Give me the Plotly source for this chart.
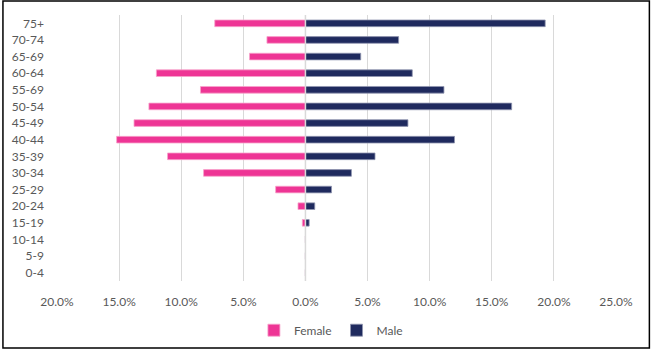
import plotly.graph_objects as go

age_groups = ["0-4", "5-9", "10-14", "15-19", "20-24", "25-29", "30-34", "35-39",
              "40-44", "45-49", "50-54", "55-69", "60-64", "65-69", "70-74", "75+"]
female_pct = [0.0, 0.0, 0.0, 0.25, 0.6, 2.4, 8.2, 11.1, 15.2, 13.8, 12.6, 8.45, 12.0, 4.5, 3.1, 7.3]
male_pct = [0.0, 0.0, 0.0, 0.3, 0.75, 2.1, 3.7, 5.6, 12.0, 8.25, 16.6, 11.15, 8.6, 4.45, 7.5, 19.3]
x_ticks = [-20, -15, -10, -5, 0, 5, 10, 15, 20, 25]
x_tick_labels = ["20.0%", "15.0%", "10.0%", "5.0%", "0.0%", "5.0%", "10.0%", "15.0%", "20.0%", "25.0%"]

FEMALE = "#EE3595"
MALE = "#1F2A5E"
W, H = 651, 357
ML, MR, MT, MB = 55, 35, 15, 70

fig = go.Figure()
fig.add_trace(go.Bar(
    y=age_groups, x=[-v for v in female_pct], name="Female", orientation="h",
    marker=dict(color=FEMALE, line=dict(color="#F7A3CC", width=0.8)), width=0.4,
))
fig.add_trace(go.Bar(
    y=age_groups, x=male_pct, name="Male", orientation="h",
    marker=dict(color=MALE, line=dict(color="#9095B0", width=0.8)), width=0.4,
))

pw = W - ML - MR
ph = H - MT - MB
fig.add_shape(type="rect", xref="paper", yref="paper",
              x0=(0.75 - ML) / pw, x1=(649.5 - ML) / pw,
              y0=(ph + MT - 355.5) / ph, y1=(ph + MT - 0.75) / ph,
              line=dict(color="black", width=1.5), fillcolor="rgba(0,0,0,0)", layer="above")

fig.update_layout(
    width=W, height=H,
    margin=dict(l=ML, r=MR, t=MT, b=MB),
    barmode="relative",
    plot_bgcolor="white", paper_bgcolor="white",
    font=dict(family="Lato", size=12, color="#595959"),
    showlegend=True,
    legend=dict(orientation="h", x=0.49, xanchor="center", y=-0.185, yanchor="middle",
                font=dict(size=12, color="#595959"), itemwidth=30, traceorder="normal"),
    xaxis=dict(range=[-20, 25], tickvals=x_ticks, ticktext=x_tick_labels,
               showgrid=True, gridcolor="#D9D9D9", gridwidth=1, zeroline=False,
               showline=False, ticks="", ticklabelstandoff=12, fixedrange=True),
    yaxis=dict(type="category", categoryorder="array", categoryarray=age_groups,
               showgrid=False, zeroline=False, showline=False, ticks="",
               ticklabelstandoff=12, fixedrange=True),
)
fig.add_vline(x=0, line=dict(color="#D9D9D9", width=1.5), layer="above")

fig.write_html("out.html", post_script="document.body.style.margin='0';",
               config={"displayModeBar": False})
